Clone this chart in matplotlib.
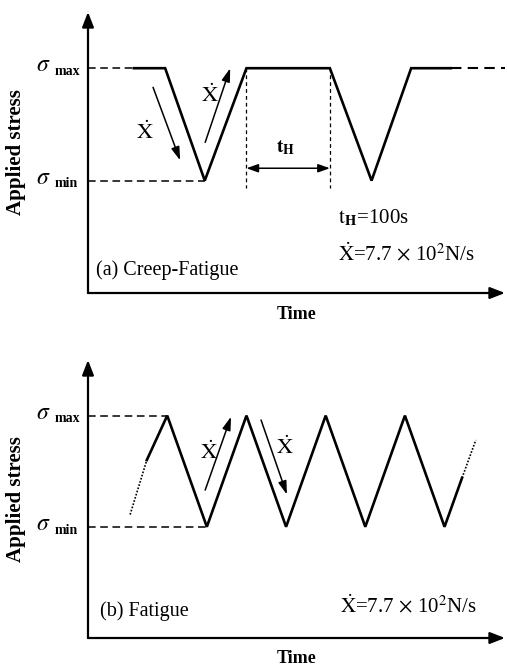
import numpy as np
import matplotlib.pyplot as plt

plt.rcParams['font.family'] = ['Liberation Serif', 'DejaVu Serif']
plt.rcParams['mathtext.fontset'] = 'stix'

# stress levels (arbitrary units)
s_min, s_max = 1.0, 2.0

# (a) creep-fatigue waveform: time / stress
t_a = [1.1, 1.85, 2.8, 3.8, 5.8, 6.8, 7.75, 8.7]
s_a = [s_max, s_max, s_min, s_max, s_max, s_min, s_max, s_max]
t_a_tail = [8.7, 10.0]
hold_start, hold_end = 3.8, 5.8

# (b) fatigue waveform
t_b = [1.41, 1.9, 2.85, 3.8, 4.75, 5.7, 6.65, 7.6, 8.55, 8.97]
s_b = [1.6, s_max, s_min, s_max, s_min, s_max, s_min, s_max, s_min, 1.44]
t_b_head = [1.01, 1.41]
s_b_head = [1.11, 1.6]
t_b_tail = [8.97, 9.3]
s_b_tail = [1.44, 1.78]

rate_text = r'$\dot{\mathrm{X}}$=7.7$\,\times\,$10$^2$N/s'

fig = plt.figure(figsize=(5.07, 6.68), dpi=100)
ax1 = fig.add_axes([88/507, 1-293/668, 417/507, 281/668])
ax2 = fig.add_axes([88/507, 1-638/668, 417/507, 278/668])


def frame(ax):
    ax.set_xlim(0, 10)
    ax.set_ylim(0, 2.5)
    for sp in ax.spines.values():
        sp.set_visible(False)
    ax.set_xticks([])
    ax.set_yticks([])
    ax.patch.set_alpha(0)
    ap = dict(arrowstyle='-|>,head_length=0.9,head_width=0.35', color='black', lw=1.6,
              shrinkA=0, shrinkB=0)
    ax.annotate('', xy=(0, 1.0), xytext=(0, 0), xycoords='axes fraction', arrowprops=ap)
    ax.annotate('', xy=(1.0, 0), xytext=(0, 0), xycoords='axes fraction', arrowprops=ap)
    ax.text(-0.172, 0.5, 'Applied stress', transform=ax.transAxes, rotation=90,
            ha='center', va='center', fontsize=15, fontweight='bold')
    ax.text(0.5, -0.075, 'Time', transform=ax.transAxes, ha='center', va='center',
            fontsize=13, fontweight='bold')
    tr = ax.get_yaxis_transform()
    for lev, sub in [(s_max, 'max'), (s_min, 'min')]:
        ax.text(-0.125, lev + 0.02, r'$\sigma$', transform=tr, ha='left', va='center',
                fontsize=17)
        ax.text(-0.08, lev - 0.03, sub, transform=tr, ha='left', va='center',
                fontsize=10, fontweight='bold')


def rate_arrow(ax, start, end, label_pos):
    ax.annotate('', xy=end, xytext=start,
                arrowprops=dict(arrowstyle='-|>,head_length=0.8,head_width=0.25',
                                color='black', lw=1.1, shrinkA=0, shrinkB=0))
    ax.text(label_pos[0], label_pos[1], r'$\dot{\mathrm{X}}$', ha='center', va='center',
            fontsize=16)


# ---- (a) creep-fatigue ----
frame(ax1)
ax1.plot([0, t_a[0]], [s_max, s_max], color='black', lw=1.1, ls=(0, (5, 3)))
ax1.plot([0, t_a[2]], [s_min, s_min], color='black', lw=1.1, ls=(0, (5, 3)))
ax1.plot(t_a, s_a, color='black', lw=1.9, solid_joinstyle='miter')
ax1.plot(t_a_tail, [s_max, s_max], color='black', lw=1.5, ls=(0, (5, 3)))
for th in (hold_start, hold_end):
    ax1.plot([th, th], [s_max, 0.93], color='black', lw=0.9, ls=(0, (3, 2.5)))
ax1.annotate('', xy=(hold_end, 1.11), xytext=(hold_start, 1.11),
             arrowprops=dict(arrowstyle='<|-|>,head_length=0.7,head_width=0.25',
                             color='black', lw=1.1, shrinkA=0, shrinkB=0))
ax1.text(4.75, 1.29, r'$\mathbf{t}_{\mathbf{H}}$', ha='center', va='center', fontsize=14)
rate_arrow(ax1, (1.56, 1.83), (2.21, 1.18), (1.37, 1.43))
rate_arrow(ax1, (2.81, 1.34), (3.41, 2.0), (2.92, 1.76))
ax1.text(0.2, 0.2, '(a) Creep-Fatigue', ha='left', va='center', fontsize=14.5)
ax1.text(6.0, 0.67, r'$\mathrm{t}_{\mathbf{H}}$=100s', ha='left', va='center', fontsize=15)
ax1.text(6.0, 0.35, rate_text, ha='left', va='center', fontsize=15)

# ---- (b) fatigue ----
frame(ax2)
ax2.plot([0, t_b[1]], [s_max, s_max], color='black', lw=1.1, ls=(0, (5, 3)))
ax2.plot([0, t_b[2]], [s_min, s_min], color='black', lw=1.1, ls=(0, (5, 3)))
ax2.plot(t_b, s_b, color='black', lw=1.9, solid_joinstyle='miter')
ax2.plot(t_b_head, s_b_head, color='black', lw=1.2, ls=(0, (1, 1)))
ax2.plot(t_b_tail, s_b_tail, color='black', lw=1.2, ls=(0, (1, 1)))
rate_arrow(ax2, (2.81, 1.33), (3.43, 1.99), (2.9, 1.67))
rate_arrow(ax2, (4.15, 1.96), (4.77, 1.29), (4.72, 1.71))
ax2.text(0.29, 0.24, '(b) Fatigue', ha='left', va='center', fontsize=14.5)
ax2.text(6.04, 0.29, rate_text, ha='left', va='center', fontsize=15)

fig.savefig('out.png', dpi=100)
